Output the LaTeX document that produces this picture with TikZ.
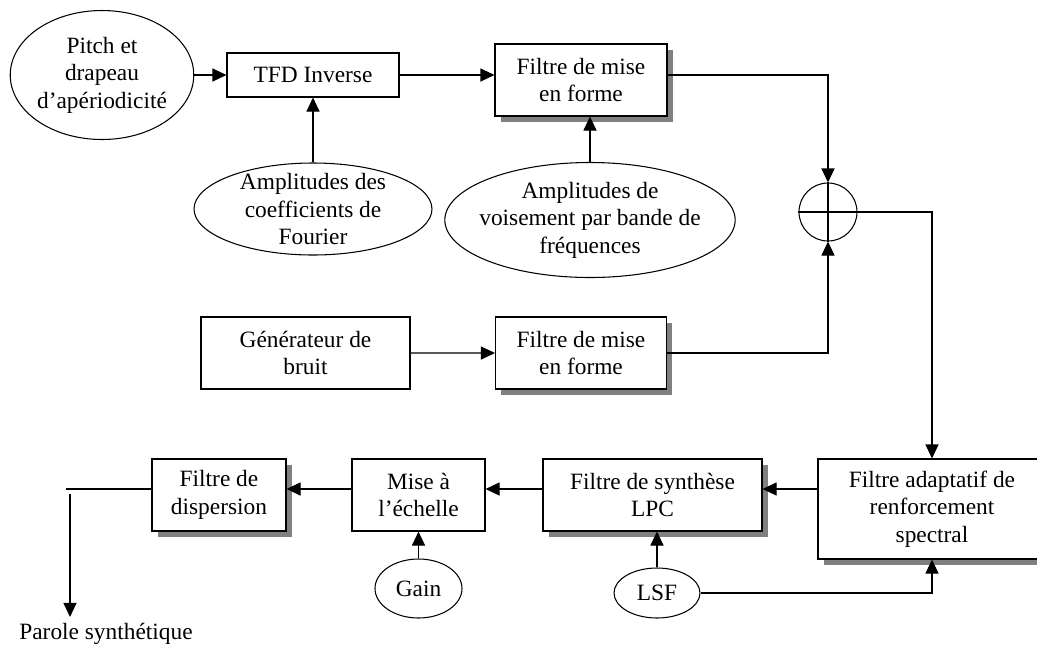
\documentclass[tikz,border=0pt]{standalone}
\usepackage{fontspec}
\setmainfont{Liberation Serif}
\usetikzlibrary{arrows.meta,shapes.geometric,shadows,positioning}

\tikzset{
    bloc/.style={draw,rectangle,fill=white,align=center,minimum height=1.44cm},
    blocombre/.style={bloc,drop shadow={shadow xshift=0.11cm,shadow yshift=-0.11cm,fill=black!50,opacity=1}},
    ovale/.style={draw,ellipse,fill=white,inner sep=0pt,align=center},
}

\begin{document}
\begin{tikzpicture}[>={Triangle[length=0.28cm,width=0.26cm]},line width=0.6pt,font=\fontsize{13.3}{15.6}\selectfont]
    \useasboundingbox (0,0) rectangle (20.74,-12.92);

    \node[ovale] (pitch) at (2.04,-1.50) [minimum width=3.62cm,minimum height=2.58cm] {Pitch et\\drapeau\\d’apériodicité};
    \node[bloc] (tfd) [right of=pitch,node distance=4.22cm,minimum width=3.44cm,minimum height=0.88cm] {TFD Inverse};
    \node[blocombre] (filtre1) [right of=tfd,node distance=5.36cm,yshift=-0.1cm,minimum width=3.44cm] {Filtre de mise\\en forme};
    \node[ovale] (fourier) [below of=tfd,node distance=2.68cm,minimum width=4.76cm,minimum height=1.84cm,inner ysep=-0.1cm] {Amplitudes des\\coefficients de\\Fourier};
    \node[ovale] (voisement) [below of=filtre1,node distance=2.8cm,xshift=0.18cm,minimum width=5.72cm,minimum height=2.3cm,inner xsep=-0.16cm] {Amplitudes de\\voisement par bande de\\fréquences};
    \node[draw,circle,minimum size=1.16cm,inner sep=0pt] (somme) at (16.56,-4.24) {};

    \node[bloc] (bruit) at (6.11,-7.06) [minimum width=4.18cm] {Générateur de\\bruit};
    \node[blocombre] (filtre2) [below of=filtre1,node distance=5.46cm,minimum width=3.42cm] {Filtre de mise\\en forme};

    \node[blocombre] (adaptatif) at (18.64,-10.18) [minimum width=4.56cm,minimum height=2cm] {Filtre adaptatif de\\renforcement\\spectral};
    \node[blocombre] (lpc) at (13.05,-9.90) [minimum width=4.38cm] {Filtre de synthèse\\LPC};
    \node[bloc] (mise) [left of=lpc,node distance=4.68cm,minimum width=2.66cm] {Mise à\\l’échelle};
    \node[blocombre] (dispersion) [left of=mise,node distance=3.99cm,minimum width=2.68cm] {Filtre de\\dispersion};
    \node[ovale] (gain) [below of=mise,node distance=1.87cm,minimum width=1.74cm,minimum height=1.18cm] {Gain};
    \node[ovale] (lsf) at (13.14,-11.86) [minimum width=1.72cm,minimum height=1cm] {LSF};
    \node (parole) at (2.12,-12.68) {Parole synthétique};
    \coordinate (sortie) at (1.32,-9.78);
    \coordinate (coude) at (1.40,-9.88);

    \draw[->] (pitch) -- (tfd);
    \draw[->] (fourier) -- (tfd);
    \draw[->] (tfd) -- (tfd -| filtre1.west);
    \draw[->] (voisement) -- (voisement |- filtre1.south);
    \draw[->] (filtre1.east |- tfd) -| (somme.north);
    \draw[->] (bruit) -- (filtre2);
    \draw[->] (filtre2) -| (somme.south);
    \draw (somme.north) -- (somme.south) (somme.west) -- (somme.east);
    \draw[->] (somme.east) -| (adaptatif.north);
    \draw[->] (adaptatif.west |- sortie) -- (lpc.east |- sortie);
    \draw[->] (lpc.west |- sortie) -- (mise.east |- sortie);
    \draw[->] (mise.west |- sortie) -- (dispersion.east |- sortie);
    \draw (dispersion.west |- sortie) -- (sortie);
    \draw[->] (coude) -- (coude |- parole.north);
    \draw[->] (gain) -- (mise);
    \draw[->] (lsf) -- (lsf |- lpc.south);
    \draw[->] (lsf) -| (adaptatif.south);
\end{tikzpicture}
\end{document}
